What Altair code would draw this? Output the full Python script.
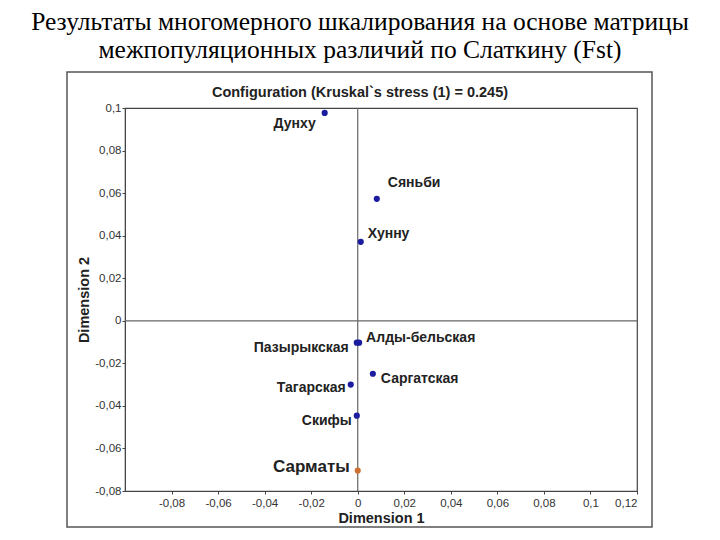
import altair as alt
import pandas as pd

# ---- data ----
names = ["Дунху", "Сяньби", "Хунну", "Алды-бельская", "Пазырыкская",
         "Саргатская", "Тагарская", "Скифы", "Сарматы"]
dim1 = [-0.0142, 0.0082, 0.0013, 0.0006, -0.0004, 0.0065, -0.0030, -0.0004, 0.0000]
dim2 = [0.0977, 0.0573, 0.0371, -0.0103, -0.0103, -0.0249, -0.0300, -0.0446, -0.0704]
group = ["other"] * 8 + ["Сарматы"]

x_ticks = [-0.08, -0.06, -0.04, -0.02, 0, 0.02, 0.04, 0.06, 0.08, 0.1, 0.12]
y_ticks = [-0.08, -0.06, -0.04, -0.02, 0, 0.02, 0.04, 0.06, 0.08, 0.1]

title_lines = ["Результаты многомерного шкалирования на основе матрицы",
               "межпопуляционных различий по Слаткину (Fst)"]
subtitle = "Configuration (Kruskal`s stress (1) = 0.245)"

df = pd.DataFrame({"name": names, "d1": dim1, "d2": dim2, "grp": group})

W, H = 512, 383
AX = "#444444"
FONT = "Liberation Sans"

label_expr = "replace(replace(format(datum.value, '.2~f'), '.', ','), '\u2212', '-')"

xs = alt.Scale(domain=[-0.1, 0.12], nice=False, zero=False)
ys = alt.Scale(domain=[-0.08, 0.1], nice=False, zero=False)

x_axis = alt.Axis(values=x_ticks, labelExpr=label_expr, grid=False,
                  tickSize=3, domainColor=AX, tickColor=AX,
                  labelColor="#333333", labelFont=FONT, labelFontSize=11.5,
                  titleFont=FONT, titleFontSize=14.5, titleFontWeight="bold",
                  titleColor="#222222", titlePadding=3, labelPadding=3)
y_axis = alt.Axis(values=y_ticks, labelExpr=label_expr, grid=False,
                  tickSize=3, domainColor=AX, tickColor=AX,
                  labelColor="#333333", labelFont=FONT, labelFontSize=11.5,
                  titleFont=FONT, titleFontSize=14.5, titleFontWeight="bold",
                  titleColor="#222222", titlePadding=3, labelPadding=1)

x_enc = alt.X("d1:Q", scale=xs, title="Dimension 1", axis=x_axis)
y_enc = alt.Y("d2:Q", scale=ys, title="Dimension 2", axis=y_axis)

base = alt.Chart(df)

# crosshair through the origin
zero_df = pd.DataFrame({"z": [0.0]})
vrule = alt.Chart(zero_df).mark_rule(color="#666666", strokeWidth=1.2).encode(
    x=alt.X("z:Q", scale=xs, title="Dimension 1", axis=x_axis))
hrule = alt.Chart(zero_df).mark_rule(color="#666666", strokeWidth=1.2).encode(
    y=alt.Y("z:Q", scale=ys, title="Dimension 2", axis=y_axis))

# outer frame around the whole figure
frame = alt.Chart(zero_df).mark_rect(fill=None, stroke="#555555", strokeWidth=1.5).encode(
    x=alt.value(-58), x2=alt.value(527), y=alt.value(-36), y2=alt.value(419))

points = base.mark_circle(size=38, opacity=1).encode(
    x=x_enc, y=y_enc,
    color=alt.Color("grp:N", scale=alt.Scale(domain=["other", "Сарматы"],
                                             range=["#1c1ca0", "#cc7033"]), legend=None))

# label placement (style, kept out of the data arrays)
label_style = {
    "Дунху": ("right", -9, 11, 14),
    "Сяньби": ("left", 11, -16, 14),
    "Хунну": ("left", 7, -8, 14),
    "Алды-бельская": ("left", 7, -5, 14),
    "Пазырыкская": ("right", -8, 5, 14),
    "Саргатская": ("left", 8, 5, 14),
    "Тагарская": ("right", -5, 3, 14),
    "Скифы": ("right", -5, 5, 14),
    "Сарматы": ("right", -8, -4, 17),
}
label_layers = []
for nm, (al, dx, dy, fs) in label_style.items():
    label_layers.append(
        base.transform_filter(alt.datum.name == nm).mark_text(
            align=al, baseline="middle", dx=dx, dy=dy, font=FONT,
            fontWeight="bold", fontSize=fs, color="#222222").encode(
            x=alt.X("d1:Q", scale=xs, axis=x_axis, title="Dimension 1"),
            y=alt.Y("d2:Q", scale=ys, axis=y_axis, title="Dimension 2"),
            text="name:N"))

chart = alt.layer(frame, vrule, hrule, points, *label_layers).properties(
    width=W, height=H,
    background="white",
    autosize=alt.AutoSizeParams(type="none"),
    padding={"left": 125, "top": 108, "right": 83, "bottom": 49},
    title=alt.TitleParams(
        text=title_lines, subtitle=subtitle, anchor="middle", dx=-21, offset=-28,
        font="Liberation Serif", fontSize=25.5, fontWeight="normal", color="black",
        lineHeight=28,
        subtitleFont=FONT, subtitleFontSize=14.5, subtitleFontWeight="bold",
        subtitleColor="#222222", subtitlePadding=22),
).configure_view(stroke=AX, strokeWidth=1.2)

chart.save("out.html", embed_options={"renderer": "svg", "actions": False})
